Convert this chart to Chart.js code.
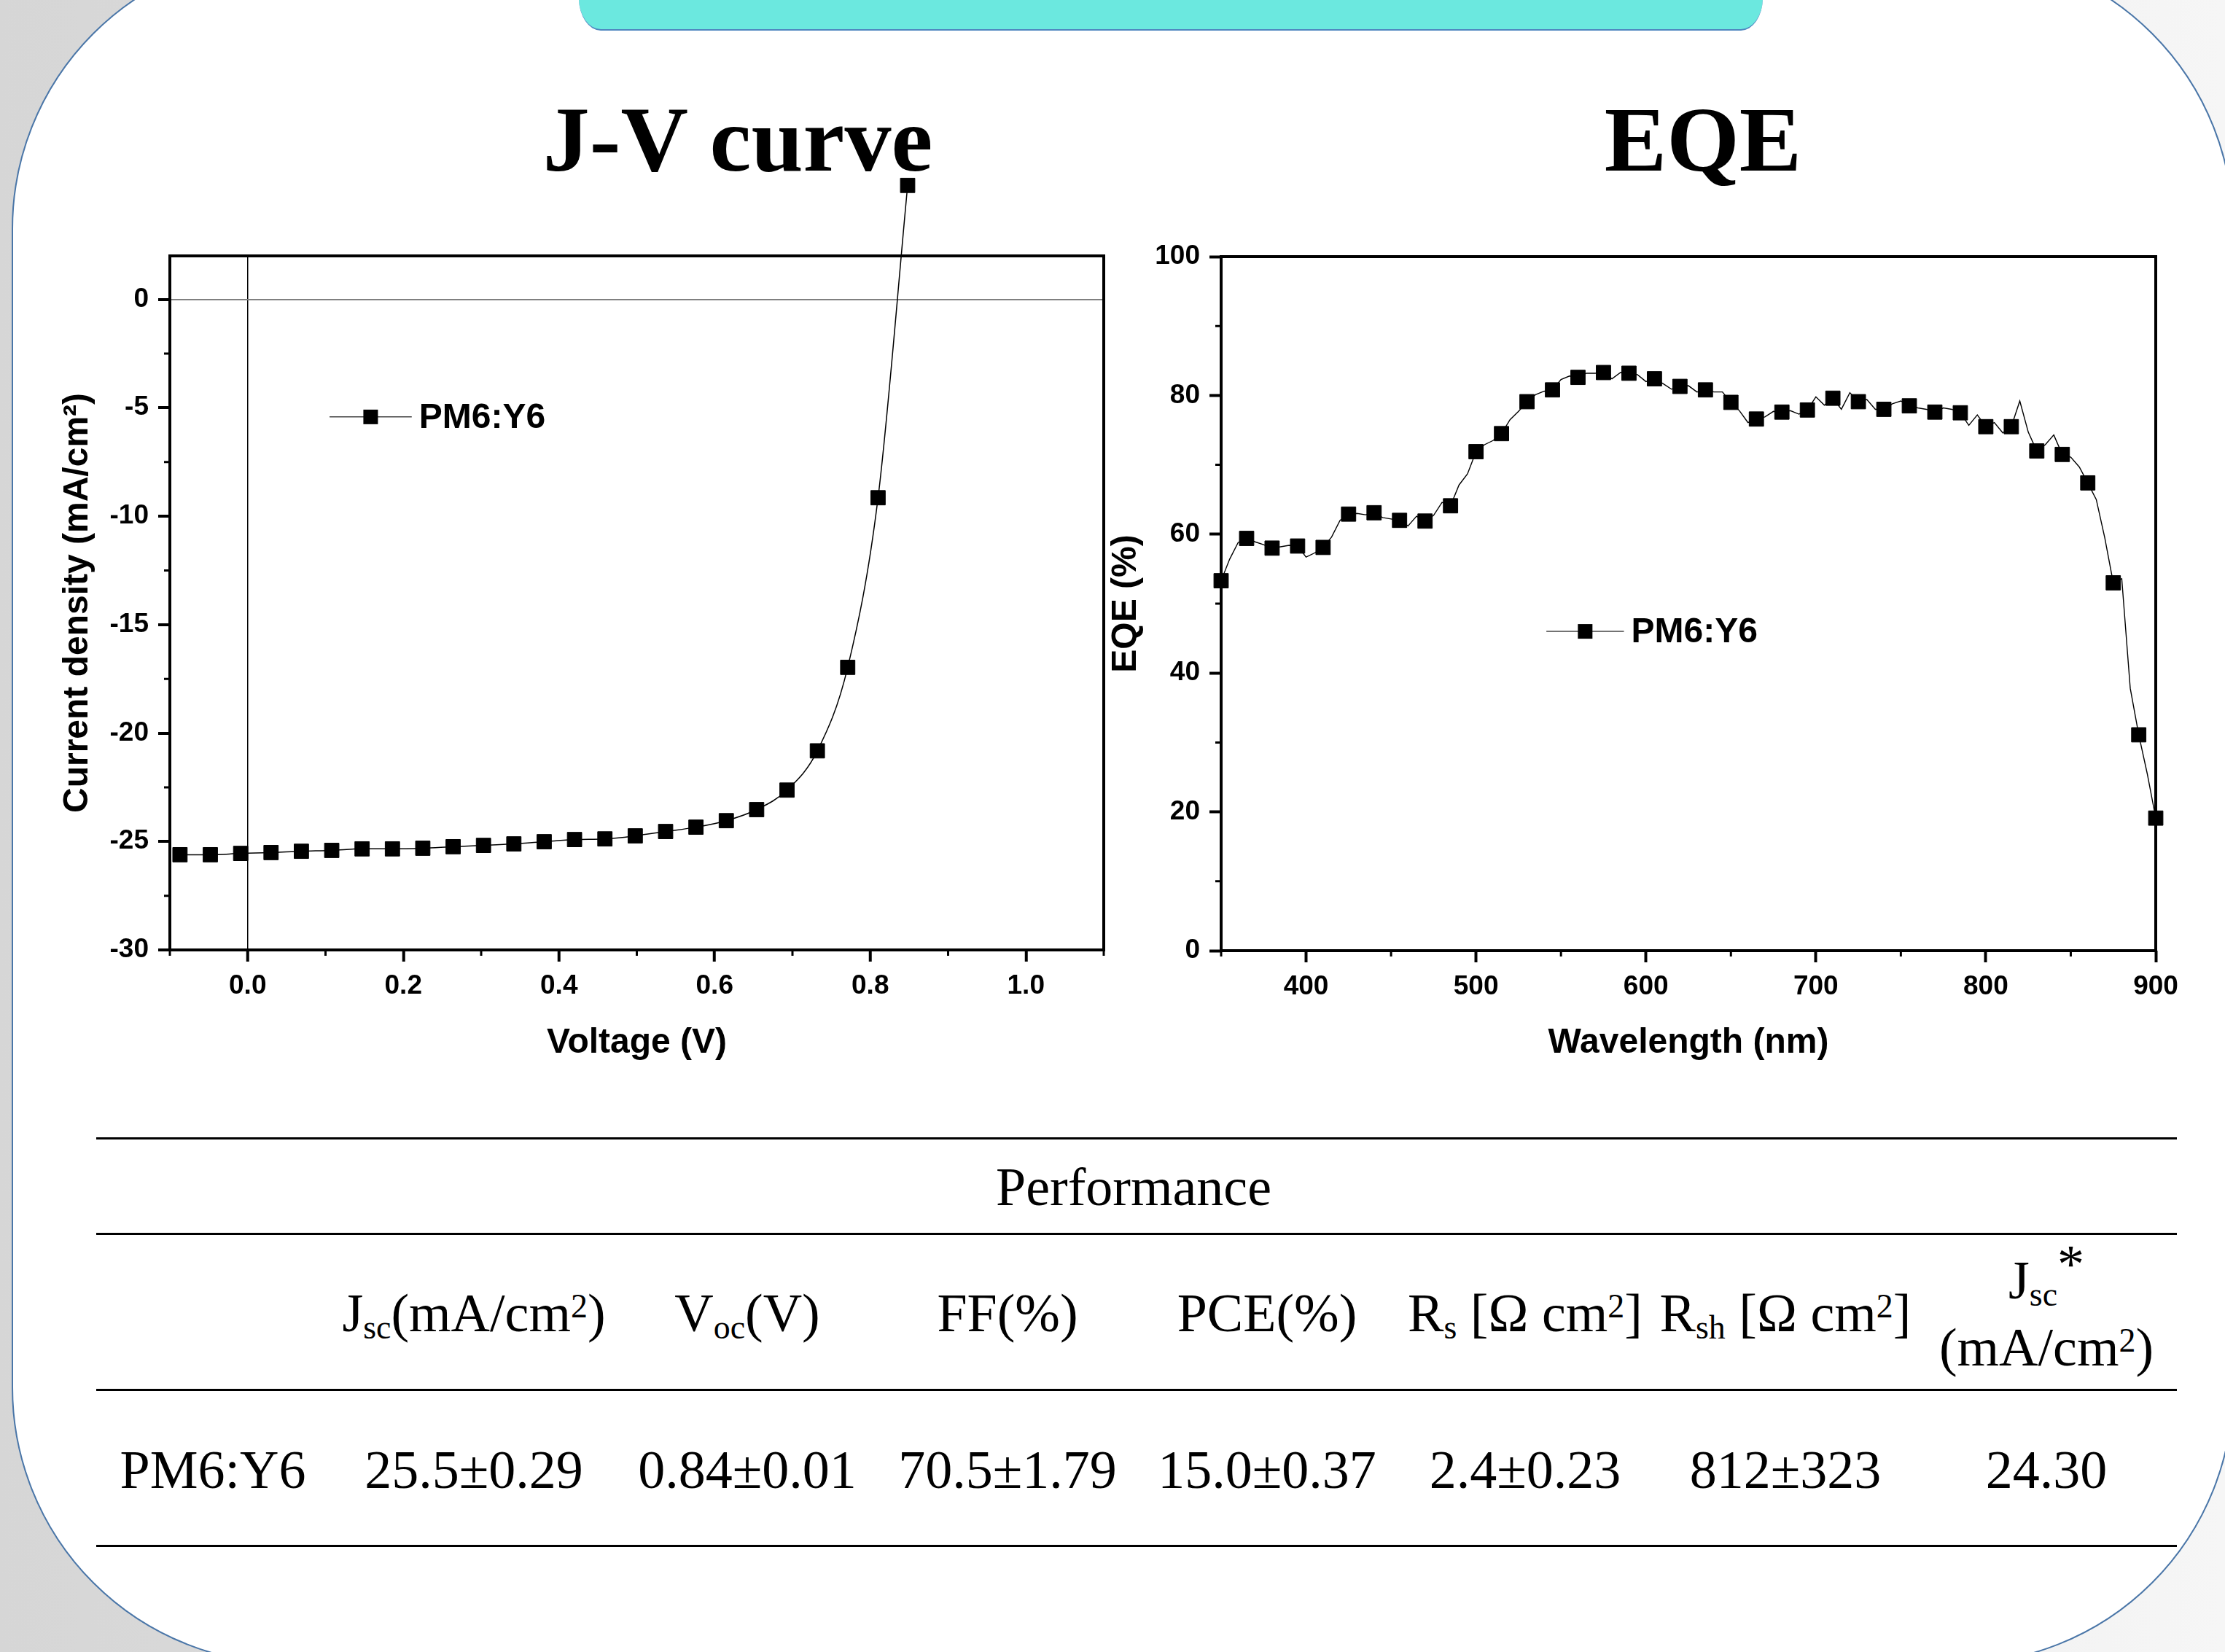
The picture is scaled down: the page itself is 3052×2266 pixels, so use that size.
<!DOCTYPE html>
<html>
<head>
<meta charset="utf-8">
<script src="https://cdn.jsdelivr.net/npm/chart.js@4.4.1/dist/chart.umd.min.js"></script>
<style>
html, body { margin: 0; padding: 0; }
body {
  width: 3052px; height: 2266px; overflow: hidden; position: relative;
  background: linear-gradient(90deg, #d6d6d6 0%, #e2e2e2 45%, #f6f6f6 100%);
}
.panel {
  position: absolute; left: 16px; top: -66px; width: 3048px; height: 2349px;
  box-sizing: border-box; border: 2px solid #4a76a8; border-radius: 380px; background: #fff;
}
.banner {
  position: absolute; left: 794px; top: -20px; width: 1624px; height: 60px;
  background: #6be8df; border-bottom: 2px solid #4f86c0;
  border-radius: 0 0 30px 30px / 0 0 45px 45px;
}
.title {
  position: absolute; top: 127px; transform: translateX(-50%);
  font-family: "Liberation Serif", "Times New Roman", serif; font-weight: bold;
  font-size: 128px; line-height: 1; white-space: nowrap; color: #000;
}
canvas { position: absolute; }
.rule { position: absolute; left: 132px; width: 2854px; height: 3px; background: #000; }
.cell {
  position: absolute; transform: translateX(-50%); white-space: nowrap;
  font-family: "Liberation Serif", "Times New Roman", serif; font-size: 74px; line-height: 1; color: #000;
}
.cell sub { font-size: 0.62em; vertical-align: -0.22em; line-height: 0; }
.cell sup { font-size: 0.62em; vertical-align: 0.42em; line-height: 0; }
.cell .star { font-size: 1em; vertical-align: 0.3em; line-height: 0; }
</style>
</head>
<body>
<div class="panel"></div>
<div class="banner"></div>
<div class="title" style="left:1012px">J-V curve</div>
<div class="title" style="left:2336px">EQE</div>
<canvas id="jvChart" width="1520" height="1350" style="left:40px;top:150px"></canvas>
<canvas id="eqeChart" width="1500" height="1350" style="left:1520px;top:150px"></canvas>
<div id="table"></div>

<script>
// J-V curve data
const jvVoltage = [-0.087, -0.048, -0.009, 0.030, 0.069, 0.108, 0.147, 0.186, 0.225, 0.264, 0.303, 0.342, 0.381,
  0.420, 0.459, 0.498, 0.537, 0.576, 0.615, 0.654, 0.693, 0.732, 0.771, 0.810, 0.848];
const jvCurrent = [-25.61, -25.61, -25.55, -25.51, -25.45, -25.41, -25.34, -25.34, -25.31, -25.24, -25.18, -25.11, -25.01,
  -24.91, -24.88, -24.74, -24.54, -24.34, -24.04, -23.53, -22.63, -20.82, -16.97, -9.15, 5.25];
const jvXTicks = [0.0, 0.2, 0.4, 0.6, 0.8, 1.0];
const jvXMinor = [-0.1, 0.1, 0.3, 0.5, 0.7, 0.9, 1.1];
const jvYTicks = [-30, -25, -20, -15, -10, -5, 0];
const jvYMinor = [-27.5, -22.5, -17.5, -12.5, -7.5, -2.5];

// EQE data: measured curve (5 nm) and marked points (15 nm)
const eqeWl = [350, 355, 360, 365, 370, 375, 380, 385, 390, 395, 400, 405, 410, 415, 420, 425, 430, 435, 440, 445,
  450, 455, 460, 465, 470, 475, 480, 485, 490, 495, 500, 505, 510, 515, 520, 525, 530, 535, 540, 545,
  550, 555, 560, 565, 570, 575, 580, 585, 590, 595, 600, 605, 610, 615, 620, 625, 630, 635, 640, 645,
  650, 655, 660, 665, 670, 675, 680, 685, 690, 695, 700, 705, 710, 715, 720, 725, 730, 735, 740, 745,
  750, 755, 760, 765, 770, 775, 780, 785, 790, 795, 800, 805, 810, 815, 820, 825, 830, 835, 840, 845,
  850, 855, 860, 865, 870, 875, 880, 885, 890, 895, 900];
const eqeVal = [53.3, 56.4, 58.8, 59.4, 58.9, 58.5, 58.0, 58.2, 58.4, 58.3, 56.7, 57.3, 58.1, 59.6, 62.0, 62.9, 63.0, 62.8, 63.1, 62.4,
  62.2, 62.0, 61.2, 62.6, 61.9, 62.7, 64.6, 64.1, 67.1, 68.7, 71.9, 72.9, 73.5, 74.5, 76.5, 77.7, 79.1, 80.1, 80.6, 80.8,
  82.3, 82.8, 82.6, 83.2, 83.2, 83.3, 82.4, 83.3, 83.2, 83.0, 82.0, 82.4, 81.7, 80.9, 81.3, 81.4, 80.5, 80.8, 80.5, 80.5,
  79.0, 77.8, 76.1, 76.6, 76.9, 77.7, 77.6, 77.8, 77.3, 77.9, 79.8, 78.6, 79.6, 78.0, 80.4, 79.1, 79.4, 78.0, 78.0, 78.8,
  79.2, 78.5, 78.2, 78.0, 77.6, 78.2, 78.0, 77.5, 75.7, 77.2, 75.5, 76.1, 74.6, 75.5, 79.2, 74.7, 72.0, 72.9, 74.3, 71.5,
  71.1, 69.7, 67.4, 65.0, 59.5, 53.0, 53.6, 37.8, 31.1, 25.5, 19.1];
const eqeMarkWl = [350, 365, 380, 395, 410, 425, 440, 455, 470, 485, 500, 515, 530, 545, 560, 575, 590, 605, 620,
  635, 650, 665, 680, 695, 710, 725, 740, 755, 770, 785, 800, 815, 830, 845, 860, 875, 890, 900];
const eqeMarkVal = [53.3, 59.4, 58.0, 58.3, 58.1, 62.9, 63.1, 62.0, 61.9, 64.1, 71.9, 74.5, 79.1, 80.8, 82.6, 83.3, 83.2, 82.4, 81.3,
  80.8, 79.0, 76.6, 77.6, 77.9, 79.6, 79.1, 78.0, 78.5, 77.6, 77.5, 75.5, 75.5, 72.0, 71.5, 67.4, 53.0, 31.1, 19.1];
const eqeXTicks = [400, 500, 600, 700, 800, 900];
const eqeXMinor = [350, 450, 550, 650, 750, 850];
const eqeYTicks = [0, 20, 40, 60, 80, 100];
const eqeYMinor = [10, 30, 50, 70, 90];

const seriesName = 'PM6:Y6';

// Performance table
const tableCaption = 'Performance';
const tableHeaders = ['J<sub>sc</sub>(mA/cm<sup>2</sup>)', 'V<sub>oc</sub>(V)', 'FF(%)', 'PCE(%)',
  'R<sub>s</sub> [Ω cm<sup>2</sup>]', 'R<sub>sh</sub> [Ω cm<sup>2</sup>]'];
const tableRowLabel = 'PM6:Y6';
const tableRowValues = ['25.5±0.29', '0.84±0.01', '70.5±1.79', '15.0±0.37', '2.4±0.23', '812±323', '24.30'];

Chart.defaults.font.family = '"Liberation Sans", Arial, sans-serif';
Chart.defaults.font.weight = 'bold';
Chart.defaults.color = '#000';

// box frame + minor ticks
const framePlugin = {
  id: 'frame',
  beforeDatasetsDraw(chart, args, opts) {
    const { ctx, chartArea: a, scales } = chart;
    ctx.save();
    ctx.strokeStyle = '#000';
    ctx.lineWidth = 4;
    ctx.strokeRect(a.left, a.top, a.width, a.height);
    ctx.lineWidth = 3;
    ctx.beginPath();
    opts.xMinor.forEach(v => {
      const px = scales.x.getPixelForValue(v);
      ctx.moveTo(px, a.bottom); ctx.lineTo(px, a.bottom + 8);
    });
    opts.yMinor.forEach(v => {
      const py = scales.y.getPixelForValue(v);
      ctx.moveTo(a.left, py); ctx.lineTo(a.left - 8, py);
    });
    ctx.stroke();
    ctx.restore();
  }
};

// Chart.js skips points outside the chart area; draw those too (clip: false datasets)
const outsidePoints = {
  id: 'outsidePoints',
  afterDatasetsDraw(chart) {
    const { ctx, chartArea: a } = chart;
    chart.data.datasets.forEach((ds, i) => {
      if (ds.clip !== false) return;
      chart.getDatasetMeta(i).data.forEach(p => {
        if (p.y < a.top - 10 || p.y > a.bottom + 10) {
          ctx.save();
          Chart.helpers.drawPoint(ctx, p.options, p.x, p.y);
          ctx.restore();
        }
      });
    });
  }
};

// legend drawn inside the plot (line + square + name)
const insideLegend = {
  id: 'insideLegend',
  afterDatasetsDraw(chart, args, opts) {
    const { ctx, chartArea: a } = chart;
    const x0 = a.left + opts.x0 * a.width;
    const x1 = a.left + opts.x1 * a.width;
    const y = a.top + opts.y * a.height;
    ctx.save();
    ctx.strokeStyle = '#444';
    ctx.lineWidth = 1.5;
    ctx.beginPath(); ctx.moveTo(x0, y); ctx.lineTo(x1, y); ctx.stroke();
    ctx.fillStyle = '#000';
    ctx.fillRect((x0 + x1) / 2 - 10, y - 10, 20, 20);
    ctx.font = 'bold 48px "Liberation Sans", Arial, sans-serif';
    ctx.textBaseline = 'middle';
    ctx.fillText(seriesName, x1 + 10, y + 2);
    ctx.restore();
  }
};

function axisFont(size) { return { size: size, weight: 'bold' }; }

// J-V chart
new Chart(document.getElementById('jvChart'), {
  type: 'line',
  data: {
    datasets: [{
      label: seriesName,
      data: jvVoltage.map((v, i) => ({ x: v, y: jvCurrent[i] })),
      borderColor: '#000',
      backgroundColor: '#000',
      borderWidth: 1.5,
      cubicInterpolationMode: 'monotone',
      pointStyle: 'rect',
      pointRadius: 14,
      pointBorderWidth: 1,
      clip: false
    }]
  },
  options: {
    responsive: false,
    animation: false,
    devicePixelRatio: 1,
    layout: { padding: { top: 201, right: 46, left: 0, bottom: 0 } },
    plugins: {
      legend: { display: false },
      tooltip: { enabled: false },
      frame: { xMinor: jvXMinor, yMinor: jvYMinor },
      insideLegend: { x0: 0.171, x1: 0.259, y: 0.232 }
    },
    scales: {
      x: {
        type: 'linear', min: -0.1, max: 1.1,
        afterBuildTicks: s => { s.ticks = jvXTicks.map(v => ({ value: v })); },
        afterFit: s => { s.height = 197; },
        border: { display: false },
        grid: {
          color: c => (c.tick && Math.abs(c.tick.value) < 1e-9 ? '#000' : 'rgba(0,0,0,0)'),
          lineWidth: 1.5, tickLength: 16, tickWidth: 4, tickColor: '#000'
        },
        ticks: { font: axisFont(37), padding: 12, maxRotation: 0, callback: v => v.toFixed(1) },
        title: { display: true, text: 'Voltage (V)', font: axisFont(48), padding: { top: 0, bottom: 40 } }
      },
      y: {
        type: 'linear', min: -30, max: 2,
        afterBuildTicks: s => { s.ticks = jvYTicks.map(v => ({ value: v })); },
        afterFit: s => { s.width = 193; },
        border: { display: false },
        grid: {
          color: c => (c.tick && c.tick.value === 0 ? '#808080' : 'rgba(0,0,0,0)'),
          lineWidth: 2, tickLength: 16, tickWidth: 4, tickColor: '#000'
        },
        ticks: { font: axisFont(37), padding: 13, callback: v => String(v) },
        title: { display: true, text: 'Current density (mA/cm²)', font: axisFont(48), padding: { top: 38, bottom: 0 } }
      }
    }
  },
  plugins: [framePlugin, outsidePoints, insideLegend]
});

// EQE chart
new Chart(document.getElementById('eqeChart'), {
  type: 'line',
  data: {
    datasets: [{
      label: seriesName + ' markers',
      data: eqeMarkWl.map((w, i) => ({ x: w, y: eqeMarkVal[i] })),
      showLine: false,
      borderColor: '#000',
      backgroundColor: '#000',
      pointStyle: 'rect',
      pointRadius: 14,
      pointBorderWidth: 1,
      clip: false
    }, {
      label: seriesName,
      data: eqeWl.map((w, i) => ({ x: w, y: eqeVal[i] })),
      borderColor: '#000',
      borderWidth: 1.4,
      pointRadius: 0,
      tension: 0
    }]
  },
  options: {
    responsive: false,
    animation: false,
    devicePixelRatio: 1,
    layout: { padding: { top: 202, right: 63, left: 0, bottom: 0 } },
    plugins: {
      legend: { display: false },
      tooltip: { enabled: false },
      frame: { xMinor: eqeXMinor, yMinor: eqeYMinor },
      insideLegend: { x0: 0.348, x1: 0.431, y: 0.540 }
    },
    scales: {
      x: {
        type: 'linear', min: 350, max: 900,
        afterBuildTicks: s => { s.ticks = eqeXTicks.map(v => ({ value: v })); },
        afterFit: s => { s.height = 196; },
        border: { display: false },
        grid: { drawOnChartArea: false, tickLength: 16, tickWidth: 4, tickColor: '#000' },
        ticks: { font: axisFont(37), padding: 12, maxRotation: 0 },
        title: { display: true, text: 'Wavelength (nm)', font: axisFont(48), padding: { top: 0, bottom: 40 } }
      },
      y: {
        type: 'linear', min: 0, max: 100,
        afterBuildTicks: s => { s.ticks = eqeYTicks.map(v => ({ value: v })); },
        afterFit: s => { s.width = 155; },
        border: { display: false },
        grid: { drawOnChartArea: false, tickLength: 16, tickWidth: 4, tickColor: '#000' },
        ticks: { font: axisFont(37), padding: 13 },
        title: { display: true, text: 'EQE (%)', font: { size: 48, weight: 'bold', lineHeight: 1.04 }, padding: { top: 0, bottom: 0 } }
      }
    }
  },
  plugins: [framePlugin, insideLegend]
});

// Performance table (HTML text)
(function buildTable() {
  const t = document.getElementById('table');
  const colX = [650, 1025, 1382, 1738, 2092, 2449, 2807];
  function rule(y) {
    const d = document.createElement('div');
    d.className = 'rule'; d.style.top = y + 'px'; t.appendChild(d);
  }
  function cell(html, cx, baseline) {
    const d = document.createElement('div');
    d.className = 'cell';
    d.innerHTML = html;
    d.style.left = cx + 'px';
    d.style.top = (baseline - 62) + 'px';
    t.appendChild(d);
  }
  [1560, 1691, 1905, 2119].forEach(rule);
  cell(tableCaption, 1555, 1653);
  tableHeaders.forEach((h, i) => cell(h, colX[i], 1826));
  cell('J<sub>sc</sub><span class="star">*</span>', colX[6], 1781);
  cell('(mA/cm<sup>2</sup>)', colX[6], 1873);
  cell(tableRowLabel, 292, 2041);
  tableRowValues.forEach((v, i) => cell(v, colX[i], 2041));
})();
</script>
</body>
</html>
